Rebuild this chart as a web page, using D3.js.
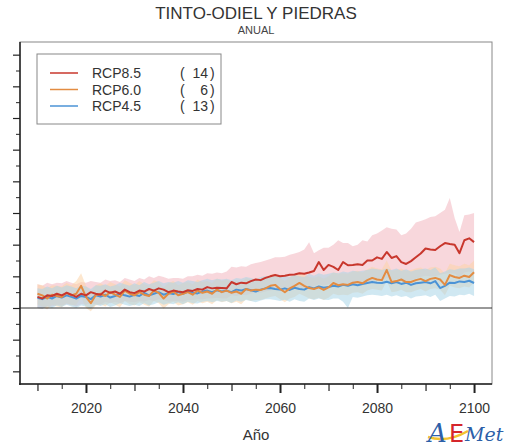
<!DOCTYPE html>
<html lang="es">
<head>
<meta charset="utf-8">
<title>TINTO-ODIEL Y PIEDRAS - Anual</title>
<script src="https://cdn.jsdelivr.net/npm/d3@7"></script>
<style>
  body { margin: 0; background: #fff; }
  text { font-family: "Liberation Sans", Arial, sans-serif; }
</style>
</head>
<body>
<div id="chart"></div>
<script>
// años 2010..2100
var years = d3.range(2010, 2101);

var rcp85 = [0.35,0.30,0.40,0.38,0.45,0.40,0.48,0.42,0.35,0.45,
  0.40,0.50,0.45,0.42,0.55,0.48,0.52,0.45,0.58,0.50,
  0.47,0.55,0.52,0.60,0.55,0.62,0.58,0.50,0.55,0.52,
  0.50,0.56,0.54,0.60,0.58,0.66,0.62,0.64,0.63,0.62,
  0.82,0.75,0.80,0.78,0.85,0.90,0.88,0.95,1.00,1.04,
  1.00,1.02,1.05,1.06,1.10,1.08,1.12,1.17,1.45,1.20,
  1.36,1.30,1.20,1.45,1.35,1.36,1.38,1.36,1.50,1.50,
  1.60,1.55,1.77,1.58,1.64,1.45,1.39,1.48,1.60,1.72,
  1.88,1.85,1.83,1.95,2.05,2.02,2.00,1.73,2.14,2.20,2.08];
var rcp85Hi = [0.75,0.70,0.80,0.75,0.80,0.78,0.85,0.80,0.75,0.82,
  0.80,0.85,0.82,0.80,0.90,0.85,0.88,0.82,0.95,0.90,
  0.85,0.95,0.90,1.00,0.95,1.02,0.98,0.92,0.95,0.95,
  0.92,1.00,1.00,1.05,1.02,1.10,1.08,1.12,1.10,1.15,
  1.30,1.28,1.32,1.30,1.38,1.42,1.45,1.50,1.55,1.60,
  1.60,1.62,1.68,1.72,1.77,1.85,2.08,1.73,1.82,1.90,
  1.90,2.00,2.14,2.05,2.05,1.95,2.00,2.14,2.10,2.30,
  2.35,2.45,2.55,2.50,2.48,2.30,2.35,2.50,2.70,2.75,
  2.80,2.87,2.90,3.00,3.10,3.47,2.84,2.40,2.93,2.95,3.00];
var rcp85Lo = [0.00,-0.02,0.05,0.05,0.10,0.08,0.12,0.10,0.05,0.12,
  0.10,0.15,0.12,0.10,0.20,0.15,0.20,0.15,0.22,0.20,
  0.18,0.22,0.20,0.25,0.22,0.28,0.25,0.20,0.22,0.22,
  0.20,0.25,0.25,0.28,0.27,0.30,0.30,0.32,0.30,0.30,
  0.40,0.38,0.42,0.40,0.45,0.48,0.48,0.52,0.55,0.58,
  0.55,0.58,0.60,0.60,0.62,0.62,0.65,0.68,0.75,0.70,
  0.75,0.72,0.70,0.78,0.75,0.75,0.78,0.78,0.82,0.85,
  0.88,0.85,0.95,0.88,0.90,0.85,0.82,0.88,0.92,0.98,
  1.02,1.00,1.00,1.05,1.08,1.10,1.08,0.98,1.12,1.15,1.10];

var rcp60 = [0.45,0.40,0.30,0.42,0.38,0.35,0.48,0.40,0.45,0.70,
  0.35,0.15,0.40,0.45,0.38,0.50,0.42,0.35,0.55,0.45,
  0.40,0.50,0.42,0.38,0.55,0.48,0.30,0.45,0.52,0.40,
  0.45,0.50,0.42,0.55,0.48,0.52,0.45,0.58,0.50,0.55,
  0.48,0.52,0.45,0.60,0.55,0.58,0.57,0.62,0.70,0.73,
  0.60,0.50,0.62,0.70,0.79,0.70,0.63,0.60,0.65,0.57,
  0.65,0.79,0.72,0.75,0.73,0.80,0.82,0.78,0.88,0.95,
  0.90,0.88,1.20,0.82,0.85,0.90,0.82,0.82,0.88,0.92,
  0.85,0.92,0.95,0.90,0.73,1.04,0.98,0.95,1.02,0.98,1.13];
var rcp60Hi = [0.75,0.72,0.62,0.72,0.70,0.68,0.80,0.72,0.85,1.10,
  0.70,0.50,0.72,0.78,0.70,0.82,0.75,0.68,0.88,0.80,
  0.72,0.85,0.75,0.70,0.88,0.82,0.65,0.78,0.85,0.72,
  0.78,0.82,0.75,0.90,0.82,0.85,0.78,0.92,0.85,0.90,
  0.82,0.88,0.80,0.95,0.90,0.92,0.92,0.98,1.05,1.08,
  0.95,0.85,0.98,1.05,1.12,1.05,0.98,0.95,1.00,0.92,
  1.00,1.12,1.08,1.10,1.08,1.15,1.18,1.12,1.22,1.30,
  1.25,1.22,1.50,1.18,1.20,1.25,1.18,1.20,1.25,1.28,
  1.20,1.28,1.30,1.25,1.10,1.40,1.35,1.32,1.40,1.35,1.50];
var rcp60Lo = [0.10,0.05,-0.05,0.10,0.05,0.02,0.15,0.08,0.10,0.35,
  0.00,-0.10,0.08,0.12,0.05,0.18,0.10,0.02,0.22,0.12,
  0.08,0.18,0.10,0.05,0.22,0.15,-0.02,0.12,0.20,0.08,
  0.12,0.18,0.10,0.22,0.15,0.20,0.12,0.25,0.18,0.22,
  0.15,0.20,0.12,0.28,0.22,0.25,0.25,0.30,0.35,0.38,
  0.28,0.18,0.30,0.35,0.45,0.38,0.30,0.28,0.32,0.25,
  0.32,0.45,0.40,0.42,0.40,0.48,0.50,0.45,0.55,0.60,
  0.58,0.55,0.85,0.50,0.52,0.58,0.50,0.50,0.55,0.60,
  0.52,0.60,0.62,0.58,0.40,0.70,0.65,0.62,0.68,0.65,0.80];

var rcp45 = [0.32,0.28,0.35,0.30,0.38,0.33,0.40,0.35,0.30,0.38,
  0.35,0.28,0.40,0.36,0.42,0.33,0.38,0.45,0.40,0.36,
  0.42,0.38,0.48,0.40,0.45,0.50,0.42,0.47,0.44,0.50,
  0.45,0.52,0.48,0.46,0.52,0.55,0.50,0.56,0.52,0.55,
  0.50,0.58,0.55,0.60,0.56,0.52,0.58,0.62,0.63,0.60,
  0.58,0.62,0.57,0.64,0.60,0.58,0.66,0.62,0.68,0.64,
  0.66,0.70,0.68,0.73,0.70,0.75,0.72,0.76,0.79,0.82,
  0.80,0.79,0.83,0.78,0.82,0.76,0.80,0.73,0.78,0.80,
  0.82,0.78,0.85,0.63,0.70,0.80,0.79,0.84,0.82,0.86,0.79];
var rcp45Hi = [0.62,0.60,0.68,0.62,0.70,0.65,0.72,0.68,0.62,0.70,
  0.68,0.60,0.72,0.70,0.75,0.68,0.72,0.80,0.75,0.70,
  0.78,0.72,0.82,0.75,0.80,0.85,0.78,0.82,0.80,0.85,
  0.80,0.88,0.85,0.82,0.88,0.92,0.88,0.92,0.90,0.92,
  0.88,0.95,0.92,0.98,0.95,0.90,0.98,1.00,1.02,1.00,
  0.98,1.02,0.98,1.05,1.00,0.98,1.08,1.02,1.10,1.05,
  1.08,1.12,1.10,1.15,1.12,1.18,1.15,1.18,1.20,1.25,
  1.22,1.20,1.25,1.20,1.25,1.18,1.22,1.15,1.20,1.22,
  1.25,1.20,1.28,1.10,1.15,1.22,1.20,1.25,1.25,1.28,1.22];
var rcp45Lo = [0.00,-0.02,0.05,0.00,0.08,0.03,0.10,0.05,0.00,0.08,
  0.05,-0.02,0.10,0.06,0.12,0.03,0.08,0.15,0.10,0.06,
  0.10,0.06,0.15,0.08,0.12,0.18,0.10,0.15,0.12,0.18,
  0.12,0.20,0.15,0.14,0.20,0.22,0.18,0.22,0.20,0.22,
  0.16,0.24,0.20,0.25,0.22,0.18,0.24,0.28,0.28,0.25,
  0.22,0.26,0.20,0.28,0.22,0.20,0.30,0.25,0.30,0.26,
  0.25,0.30,0.30,0.20,0.00,0.35,0.32,0.36,0.40,0.42,
  0.40,0.38,0.42,0.36,0.40,0.35,0.38,0.30,0.36,0.38,
  0.40,0.35,0.42,0.22,0.30,0.38,0.36,0.42,0.40,0.45,0.38];

var seriesNames = ["RCP8.5", "RCP6.0", "RCP4.5"];
var modelCounts = [14, 6, 13];
var lineColors = ["#c8372d", "#e38c42", "#4b93d6"];
var bandColors = ["#f3b6bf", "#fbd3a8", "#a9d6e8"];
var xTickLabels = [2020, 2040, 2060, 2080, 2100];

// ojo: "top" es de window, no usarlo como variable
var W = 509, H = 447, pLeft = 20, pRight = 492, pTop = 42, pBottom = 384;

var svg = d3.select("#chart").append("svg").attr("width", W).attr("height", H);

var x = d3.scaleLinear().domain([2006.4, 2103.7]).range([pLeft, pRight]);
var y = d3.scaleLinear().domain([-2.4, 8.4]).range([pBottom, pTop]);

// titulo
svg.append("text").attr("x", 256).attr("y", 19).attr("text-anchor", "middle")
  .style("font-size", "17px").style("fill", "#333").text("TINTO-ODIEL Y PIEDRAS");
svg.append("text").attr("x", 256).attr("y", 34).attr("text-anchor", "middle")
  .style("font-size", "11px").style("fill", "#444").text("ANUAL");

// marco
svg.append("rect").attr("x", pLeft).attr("y", pTop).attr("width", pRight - pLeft).attr("height", pBottom - pTop)
  .style("fill", "none").style("stroke", "#888").style("stroke-width", 1);

var bands = [[rcp85Lo, rcp85Hi], [rcp60Lo, rcp60Hi], [rcp45Lo, rcp45Hi]];
var means = [rcp85, rcp60, rcp45];

var plot = svg.append("g");
bands.forEach(function (b, i) {
  var area = d3.area().x(function (d, j) { return x(years[j]); })
    .y0(function (d, j) { return y(b[0][j]); })
    .y1(function (d, j) { return y(b[1][j]); });
  plot.append("path").datum(years).attr("d", area)
    .style("fill", bandColors[i]).style("fill-opacity", 0.55);
});

// linea de cero
svg.append("line").attr("x1", pLeft).attr("x2", pRight).attr("y1", y(0)).attr("y2", y(0))
  .style("stroke", "#333").style("stroke-width", 1);

var line = d3.line().x(function (d, j) { return x(years[j]); }).y(function (d) { return y(d); });
[2, 1, 0].forEach(function (i) {
  plot.append("path").datum(means[i]).attr("d", line)
    .style("fill", "none").style("stroke", lineColors[i]).style("stroke-width", 2)
    .style("stroke-linejoin", "round");
});

// ejes
function styleAxis(g, w) {
  g.select(".domain").remove();
  g.selectAll("line").style("stroke", "#222").style("stroke-width", w);
}
svg.append("g").attr("transform", "translate(" + pLeft + ",0)")
  .call(d3.axisLeft(y).tickValues(d3.range(-2, 8.1, 1)).tickSize(7).tickFormat(""))
  .call(styleAxis, 1.2);
svg.append("g").attr("transform", "translate(" + pLeft + ",0)")
  .call(d3.axisLeft(y).tickValues(d3.range(-1.5, 8, 1)).tickSize(4).tickFormat(""))
  .call(styleAxis, 1);
svg.append("line").attr("x1", pLeft).attr("x2", pLeft).attr("y1", pTop).attr("y2", pBottom + 1)
  .style("stroke", "#222").style("stroke-width", 1.5);

var xg = svg.append("g").attr("transform", "translate(0," + pBottom + ")");
xg.append("g").call(d3.axisBottom(x).tickValues(d3.range(2015, 2100, 10)).tickSize(5).tickFormat(""))
  .call(styleAxis, 1);
xg.append("g").call(d3.axisBottom(x).tickValues(d3.range(2010, 2100, 20)).tickSize(7).tickFormat(""))
  .call(styleAxis, 1.2);
xg.append("g").call(d3.axisBottom(x).tickValues(xTickLabels).tickSize(9).tickPadding(10).tickFormat(d3.format("d")))
  .call(styleAxis, 2)
  .selectAll("text").style("font-size", "14px").style("fill", "#333")
  .style("font-family", "'Liberation Sans', Arial, sans-serif");
svg.append("line").attr("x1", pLeft - 1).attr("x2", pRight).attr("y1", pBottom).attr("y2", pBottom)
  .style("stroke", "#222").style("stroke-width", 1.5);

svg.append("text").attr("x", 256).attr("y", 440).attr("text-anchor", "middle")
  .style("font-size", "15px").style("fill", "#333").text("Año");

// leyenda
var lg = svg.append("g");
lg.append("rect").attr("x", 37).attr("y", 54).attr("width", 184).attr("height", 70)
  .style("fill", "#fff").style("stroke", "#888").style("stroke-width", 1);
seriesNames.forEach(function (name, i) {
  var ry = 73 + i * 16.5;
  lg.append("line").attr("x1", 50).attr("x2", 78).attr("y1", ry).attr("y2", ry)
    .style("stroke", lineColors[i]).style("stroke-width", 1.5);
  lg.append("text").attr("x", 92).attr("y", ry + 5).style("font-size", "14px").style("fill", "#333").text(name);
  lg.append("text").attr("x", 180).attr("y", ry + 5).style("font-size", "14px").style("fill", "#333").text("(");
  lg.append("text").attr("x", 208).attr("y", ry + 5).attr("text-anchor", "end")
    .style("font-size", "14px").style("fill", "#333").text(modelCounts[i]);
  lg.append("text").attr("x", 210).attr("y", ry + 5).style("font-size", "14px").style("fill", "#333").text(")");
});

// logo AEMet
var logo = svg.append("g").attr("transform", "translate(428,442)");
logo.append("path").attr("d", "M0,-5 C12,-1 26,-3 40,-11")
  .style("fill", "none").style("stroke", "#f2c230").style("stroke-width", 2.5);
logo.append("text").attr("x", 0).attr("y", 0).style("font-size", "26px").style("font-style", "italic")
  .style("font-family", "'DejaVu Serif', serif").style("fill", "#2d5fa8").text("A");
logo.append("text").attr("x", 21).attr("y", 0).style("font-size", "24px")
  .style("font-family", "'DejaVu Sans', sans-serif").style("fill", "#d5262c").text("E");
logo.append("text").attr("x", 37).attr("y", -1).style("font-size", "19px").style("font-style", "italic")
  .style("font-family", "'DejaVu Serif', serif").style("fill", "#2d5fa8").text("Met");
</script>
</body>
</html>
